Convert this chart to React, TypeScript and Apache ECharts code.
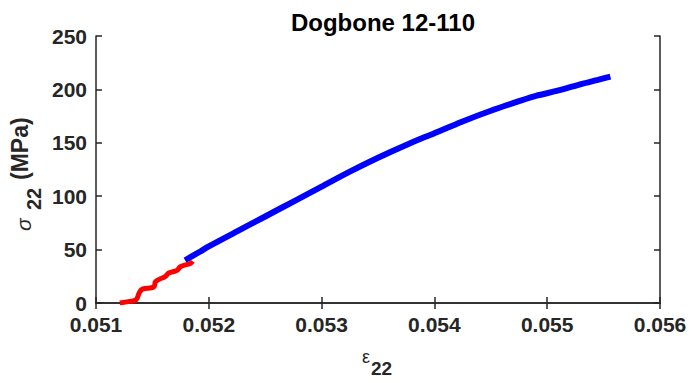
import React, { useEffect, useRef } from "react";
import * as echarts from "echarts";

const title = "Dogbone 12-110";
const xTicks = [0.051, 0.052, 0.053, 0.054, 0.055, 0.056];
const yTicks = [0, 50, 100, 150, 200, 250];

const blueStrain = [0.05179, 0.05192, 0.0520, 0.05225, 0.0525, 0.05275, 0.0530, 0.05325, 0.0535, 0.05375, 0.0540, 0.05425, 0.0545, 0.05475, 0.0549, 0.0551, 0.0553, 0.05545, 0.05556];
const blueStress = [40, 48, 53, 67, 81, 95, 109, 123, 136, 148, 159, 170, 180, 189, 194, 199, 205, 209, 212];

const redStrain = [0.051211, 0.051300, 0.051350, 0.051367, 0.051381, 0.051411, 0.051513, 0.051528, 0.051616, 0.051645, 0.051719, 0.051748, 0.051836, 0.051857];
const redStress = [0, 1.5, 2.5, 5, 9, 13, 15, 20, 25, 28, 30.5, 34, 37, 39];

const FONT = '"Liberation Sans", Arial, Helvetica, sans-serif';
const INK = "#262626";

export default function App() {
  const ref = useRef<HTMLDivElement>(null);
  useEffect(() => {
    if (!ref.current) return;
    const chart = echarts.init(ref.current, undefined, { renderer: "svg" });
    const axisCommon = {
      axisLine: { show: true, lineStyle: { color: INK, width: 1.5 } },
      axisTick: { show: true, inside: true, length: 6, lineStyle: { color: INK, width: 1.5 } },
      splitLine: { show: false },
    };
    chart.setOption({
      animation: false,
      backgroundColor: "#ffffff",
      grid: { left: 96, right: 34, top: 36, bottom: 80, containLabel: false },
      title: {
        text: title,
        left: 378,
        textAlign: "center",
        top: 5,
        textStyle: { fontFamily: FONT, fontWeight: "bold", fontSize: 24, color: "#000" },
      },
      xAxis: [
        {
          type: "value",
          min: 0.051,
          max: 0.056,
          interval: 0.001,
          ...axisCommon,
          axisLabel: {
            show: true,
            margin: 11,
            fontFamily: FONT,
            fontWeight: "bold",
            fontSize: 21,
            color: INK,
            formatter: (v: number) => {
              const t = xTicks.find((k) => Math.abs(k - v) < 1e-7);
              return t !== undefined ? t.toFixed(3) : "";
            },
          },
        },
        {
          type: "value",
          position: "top",
          min: 0.051,
          max: 0.056,
          interval: 0.001,
          ...axisCommon,
          axisLabel: { show: false },
        },
      ],
      yAxis: [
        {
          type: "value",
          min: 0,
          max: 250,
          interval: 50,
          ...axisCommon,
          axisLabel: {
            show: true,
            margin: 9,
            fontFamily: FONT,
            fontWeight: "bold",
            fontSize: 21,
            color: INK,
            formatter: (v: number) => (yTicks.includes(v) ? String(v) : ""),
          },
        },
        {
          type: "value",
          position: "right",
          min: 0,
          max: 250,
          interval: 50,
          ...axisCommon,
          axisLabel: { show: false },
        },
      ],
      graphic: [
        {
          type: "group",
          x: 31,
          y: 231,
          rotation: Math.PI / 2,
          children: [
            {
              type: "text",
              x: 0,
              y: 3,
              style: { text: "σ", fontFamily: FONT, fontStyle: "italic", fontSize: 21, fill: INK, verticalAlign: "bottom" },
            },
            {
              type: "text",
              x: 21,
              y: 13,
              style: { text: "22", fontFamily: FONT, fontWeight: "bold", fontSize: 20, fill: INK, verticalAlign: "bottom" },
            },
            {
              type: "text",
              x: 51,
              y: 0,
              style: { text: "(MPa)", fontFamily: FONT, fontWeight: "bold", fontSize: 23, fill: INK, verticalAlign: "bottom" },
            },
          ],
        },
        {
          type: "text",
          x: 362,
          y: 366,
          style: { text: "ε", fontFamily: FONT, fontSize: 18, fill: INK, verticalAlign: "bottom" },
        },
        {
          type: "text",
          x: 371,
          y: 378,
          style: { text: "22", fontFamily: FONT, fontWeight: "bold", fontSize: 19, fill: INK, verticalAlign: "bottom" },
        },
      ],
      series: [
        {
          type: "line",
          xAxisIndex: 0,
          yAxisIndex: 0,
          data: blueStrain.map((x, i) => [x, blueStress[i]]),
          showSymbol: false,
          smooth: 0.3,
          lineStyle: { color: "#0000ff", width: 6 },
          itemStyle: { color: "#0000ff" },
        },
        {
          type: "line",
          xAxisIndex: 0,
          yAxisIndex: 0,
          data: redStrain.map((x, i) => [x, redStress[i]]),
          showSymbol: false,
          smooth: 0.4,
          lineStyle: { color: "#ff0000", width: 5 },
          itemStyle: { color: "#ff0000" },
        },
      ],
    });
    return () => chart.dispose();
  }, []);
  return <div ref={ref} style={{ width: 694, height: 383, position: "absolute", left: 0, top: 0 }} />;
}
